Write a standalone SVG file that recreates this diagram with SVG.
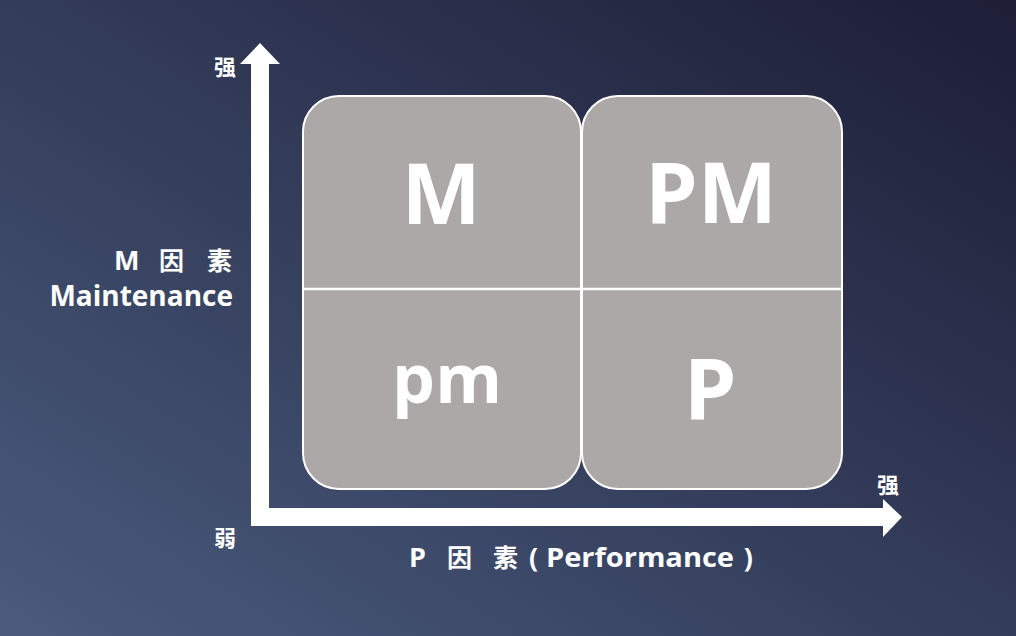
<svg xmlns="http://www.w3.org/2000/svg" width="1016" height="636" viewBox="0 0 1016 636">
<defs>
<linearGradient id="bg" x1="0" y1="1" x2="1" y2="0">
<stop offset="0" stop-color="#4a5b7d"/>
<stop offset="0.5" stop-color="#333c5a"/>
<stop offset="1" stop-color="#1d1d36"/>
</linearGradient>
<style>
.lbl{font-family:"Open Sans","Noto Sans CJK SC",sans-serif;font-weight:bold;fill:#ffffff}
.cjk{font-family:"Noto Sans CJK SC",sans-serif;font-weight:bold;fill:#ffffff}
.big{font-family:"Open Sans","Noto Sans CJK SC",sans-serif;font-weight:bold;fill:#ffffff;font-size:84px;text-anchor:middle}
.cell{fill:#aca8a7;stroke:#ffffff;stroke-width:2}
.ax{fill:#ffffff}
</style>
</defs>
<rect width="1016" height="636" fill="url(#bg)"/>
<g id="axes">
<polygon class="ax" points="251,526 251,64 240,64 260,43 280,64 269,64 269,508 883,508 883,499 902,517 883,537 883,526"/>
</g>
<g id="cell-left">
<rect class="cell" x="303" y="96" width="278" height="393" rx="36"/>
</g>
<g id="cell-right">
<rect class="cell" x="582" y="96" width="260" height="393" rx="36"/>
</g>
<g id="connectors">
<line x1="303" y1="289" x2="842" y2="289" stroke="#ffffff" stroke-width="2.5"/>
</g>
<g id="n-M"><text class="big" x="441" y="224">M</text></g>
<g id="n-PM"><text class="big" x="711" y="223">PM</text></g>
<g id="n-pm"><text class="big" x="447" y="403" style="font-size:68px">pm</text></g>
<g id="n-P"><text class="big" x="710" y="419">P</text></g>
<g id="labels">
<text class="cjk" x="225" y="75" font-size="22" text-anchor="middle">强</text>
<text class="cjk" x="225" y="546" font-size="22" text-anchor="middle">弱</text>
<text class="cjk" x="888" y="493" font-size="22" text-anchor="middle">强</text>
<text class="lbl" x="114" y="270" font-size="27">M</text>
<text class="cjk" x="159" y="270" font-size="25">因</text>
<text class="cjk" x="207" y="270" font-size="25">素</text>
<text class="lbl" x="233" y="306" font-size="28" text-anchor="end">Maintenance</text>
<text class="lbl" x="409" y="567" font-size="27">P</text>
<text class="cjk" x="447" y="567" font-size="25">因</text>
<text class="cjk" x="493" y="567" font-size="25">素</text>
<text class="lbl" x="529" y="567" font-size="27">(</text>
<text class="lbl" x="546" y="567" font-size="27" textLength="188" lengthAdjust="spacingAndGlyphs">Performance</text>
<text class="lbl" x="753" y="567" font-size="27" text-anchor="end">)</text>
</g>
</svg>
